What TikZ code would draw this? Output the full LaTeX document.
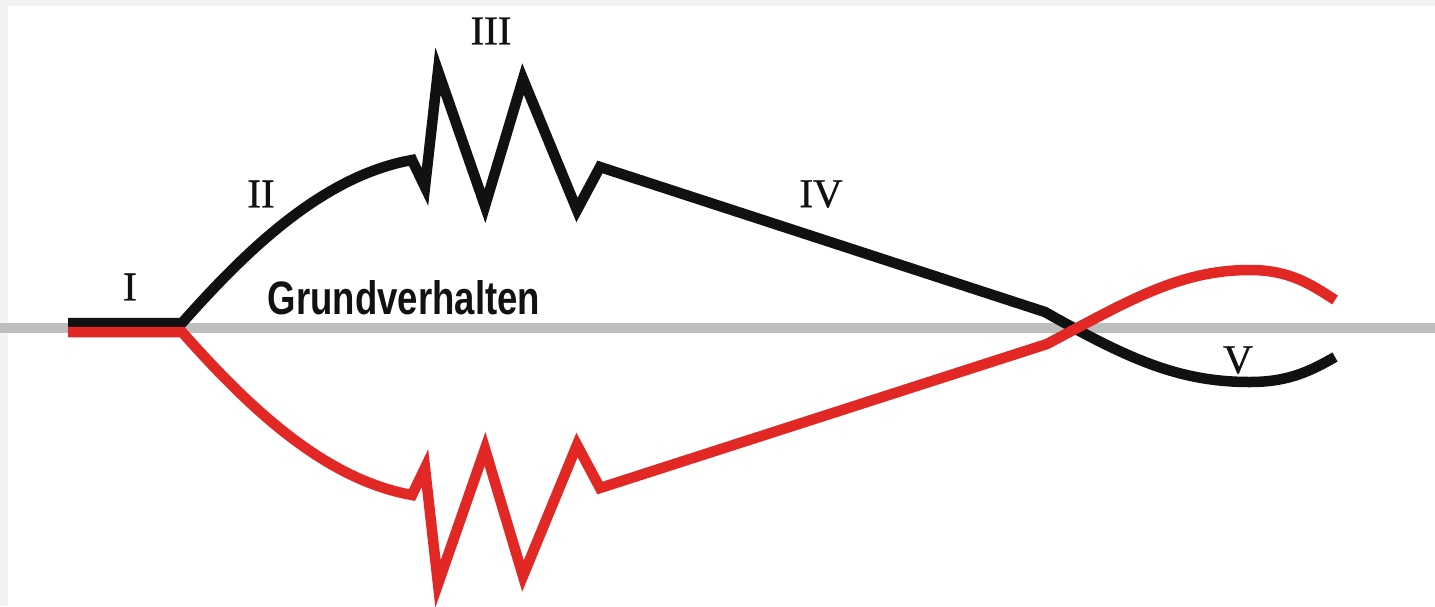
\documentclass[tikz,border=0pt]{standalone}
\usepackage{fontspec}
\setmainfont{Liberation Serif}
\setsansfont{Liberation Sans}
\newfontfamily\romfont[FakeBold=0.8]{Liberation Serif}
\definecolor{frame}{RGB}{242,242,242}
\definecolor{axisgray}{RGB}{190,190,190}
\definecolor{curvered}{RGB}{226,40,36}
\definecolor{curveblack}{RGB}{17,17,17}
\begin{document}
\begin{tikzpicture}[x=1pt,y=-1pt,
  curve/.style={line width=10.5pt,line join=miter,miter limit=12,line cap=butt},
  roman/.style={inner sep=0pt,font=\romfont\fontsize{41}{41}\selectfont,text=curveblack}]
\useasboundingbox (0,0) rectangle (1435,606);
\fill[frame] (0,0) rectangle (1435,606);
\fill[white] (8,6) rectangle (1435,606);
% axis
\draw[axisgray,line width=10pt] (0,328) -- (1435,328);
% black curve
\draw[curve,curveblack] (68,323) -- (182,323)
  .. controls (245,252) and (322,176) .. (412,160)
  -- (425,187) -- (438,71) -- (485,206) -- (523,79) -- (577,210) -- (600,167)
  -- (1045,312)
  .. controls (1130,360) and (1180,382) .. (1250,382)
  .. controls (1290,382) and (1312,370) .. (1335,357);
% red curve
\draw[curve,curvered] (68,332) -- (182,332)
  .. controls (245,403) and (322,479) .. (412,495)
  -- (425,468) -- (438,584) -- (485,449) -- (523,576) -- (577,445) -- (600,488)
  -- (1047,344)
  .. controls (1130,300) and (1180,270) .. (1250,270)
  .. controls (1290,270) and (1312,285) .. (1335,300);
% labels
\node[roman] (l1) at (130,287) {I};
\node[roman] (l2) at (261,194) {II};
\node[roman] (l3) at (491,31) {III};
\node[roman] (l4) at (821,194) {IV};
\node[roman] (l5) at (1238,360) {V};
\node[inner sep=0pt,text=curveblack] (gv) at (404,298)
  {\resizebox{272pt}{34pt}{\sffamily\bfseries Grundverhalten}};
\end{tikzpicture}
\end{document}
